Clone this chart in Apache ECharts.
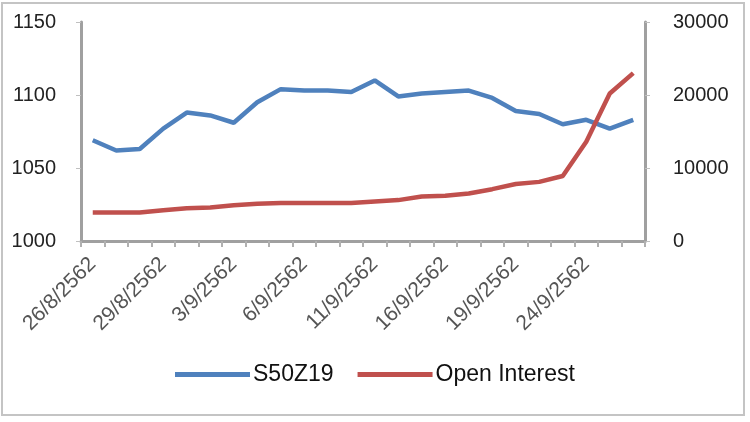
<!DOCTYPE html>
<html>
<head>
<meta charset="utf-8">
<script src="https://cdn.jsdelivr.net/npm/echarts@6/dist/echarts.min.js"></script>
<style>
html,body{margin:0;padding:0;background:#fff;}
#c{width:750px;height:422px;}
</style>
</head>
<body>
<div id="c"></div>
<script>
const categories = ['26/8/2562','27/8/2562','28/8/2562','29/8/2562','30/8/2562','2/9/2562','3/9/2562','4/9/2562','5/9/2562','6/9/2562','9/9/2562','10/9/2562','11/9/2562','12/9/2562','13/9/2562','16/9/2562','17/9/2562','18/9/2562','19/9/2562','20/9/2562','23/9/2562','24/9/2562','25/9/2562','26/9/2562'];
const s50z19 = [1069,1062,1063,1077,1088,1086,1081,1095,1104,1103,1103,1102,1110,1099,1101,1102,1103,1098,1089,1087,1080,1083,1077,1083];
const openInterest = [3900,3900,3900,4200,4500,4600,4900,5100,5200,5200,5200,5200,5400,5600,6100,6200,6500,7100,7800,8100,8900,13600,20200,23000];
const leftTicks = {min:1000, max:1150, interval:50};
const rightTicks = {min:0, max:30000, interval:10000};

const FONT = "'Liberation Sans',Arial,sans-serif";
const plain = v => String(v);
const chart = echarts.init(document.getElementById('c'));
chart.setOption({
  backgroundColor:'#fff',
  animation:false,
  graphic:[{type:'rect',shape:{x:2,y:3,width:742,height:412},style:{fill:'none',stroke:'#c4c4c4',lineWidth:2},silent:true}],
  grid:{left:81,right:105,top:22,bottom:181},
  legend:{
    data:['S50Z19','Open Interest'],
    left:170, top:358,
    icon:'rect', itemWidth:75, itemHeight:5, itemGap:24,
    textStyle:{fontFamily:FONT,fontSize:23,color:'#111',padding:[0,0,0,-2]}
  },
  xAxis:{
    type:'category', data:categories, boundaryGap:true,
    axisLine:{lineStyle:{color:'#a0a0a0',width:3}},
    axisTick:{show:true,interval:0,length:6,lineStyle:{color:'#b0b0b0',width:2}},
    axisLabel:{interval:2,rotate:45,margin:20,fontFamily:FONT,fontSize:21,color:'#555'}
  },
  yAxis:[
    {type:'value',min:leftTicks.min,max:leftTicks.max,interval:leftTicks.interval,
     axisLine:{show:true,lineStyle:{color:'#a0a0a0',width:3}},
     axisTick:{show:true,length:5,lineStyle:{color:'#c0c0c0',width:1}},
     splitLine:{show:false},
     axisLabel:{formatter:plain,margin:25,fontFamily:FONT,fontSize:20,color:'#222',padding:[0,0,11,0]}},
    {type:'value',min:rightTicks.min,max:rightTicks.max,interval:rightTicks.interval,position:'right',
     axisLine:{show:true,lineStyle:{color:'#a0a0a0',width:3}},
     axisTick:{show:true,length:5,lineStyle:{color:'#c0c0c0',width:1}},
     splitLine:{show:false},
     axisLabel:{formatter:plain,margin:28,fontFamily:FONT,fontSize:20,color:'#222',padding:[0,0,11,0]}}
  ],
  series:[
    {name:'S50Z19',type:'line',yAxisIndex:0,data:s50z19,showSymbol:false,symbol:'none',
     lineStyle:{color:'#4F81BD',width:4.5},itemStyle:{color:'#4F81BD'}},
    {name:'Open Interest',type:'line',yAxisIndex:1,data:openInterest,showSymbol:false,symbol:'none',
     lineStyle:{color:'#C0504D',width:4.5},itemStyle:{color:'#C0504D'}}
  ]
});
</script>
</body>
</html>
